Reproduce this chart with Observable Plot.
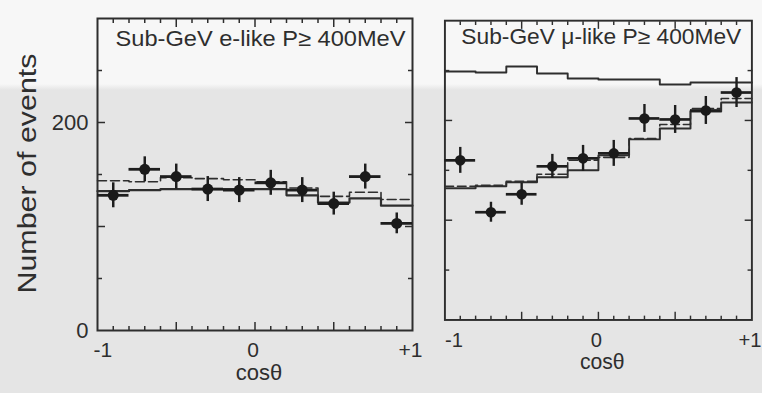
<!DOCTYPE html>
<html><head><meta charset="utf-8">
<script src="https://cdn.jsdelivr.net/npm/d3@7"></script>
<script src="https://cdn.jsdelivr.net/npm/@observablehq/plot@0.6"></script>
<style>
html,body{margin:0;padding:0;width:762px;height:393px;overflow:hidden;}
body{position:relative;background:linear-gradient(#f7f7f7 0px,#f7f7f7 84px,#e5e5e5 90px,#e5e5e5 100%);font-family:"Liberation Sans",Arial,sans-serif;}
#p1,#p2{position:absolute;top:0;}
#p1{left:0px;}
#p2{left:430px;}
</style></head><body>
<div id="p1"></div><div id="p2"></div>
<script>
// cos(theta) bins
const binLeft   = [-1.0,-0.8,-0.6,-0.4,-0.2,0.0,0.2,0.4,0.6,0.8];
const binCenter = [-0.9,-0.7,-0.5,-0.3,-0.1,0.1,0.3,0.5,0.7,0.9];
const binHalf = 0.1;

// Sub-GeV e-like
const eData   = [130,155,148,136,135,142,135,122,148,103];
const eErr    = [12,12,12,12,12,12,12,11,12,10];
const eSolid  = [134,135,136,136,136,136,130,123,127,120];
const eDashed = [144,143,147,146,145,143,137,129,133,126];

// Sub-GeV mu-like
const mData   = [160,108,126,154,162,167,202,201,210,228];
const mErr    = [13,10,11,12,13,13,14,14,14,15];
const mNoOsc  = [249,248,254,247,242,241,241,236,238,238];
const mSolid  = [132,134,138,143,150,165,181,192,209,218];
const mDashed = [134,135,139,146,160,163,182,196,212,222];

// axes
const xMinorTicks = [-0.9,-0.8,-0.7,-0.6,-0.4,-0.3,-0.2,-0.1,0.1,0.2,0.3,0.4,0.6,0.7,0.8,0.9];
const xMajorTicks = [-0.5,0,0.5];
const xLabelTicks = [-1,0,1];
const xLabelText  = ["-1","0","+1"];
const yMinorTicks = [50,150,250];
const yMajorTicks = [100,200];
const yLabelTicks = [0,200];
const yLabel = "Number of events";
const xLabel = "cos\u03b8";
const titles = ["Sub-GeV e-like P\u2265 400MeV","Sub-GeV \u03bc-like P\u2265 400MeV"];

const ink = "#2e2e2e";

function stepPts(vals){
  const pts = binLeft.map((x,i)=>({x, y: vals[i]}));
  pts.push({x: 1, y: vals[vals.length-1]});
  return pts;
}

function panel(o){
  const pts = binCenter.map((c,i)=>({c, v:o.data[i], e:o.err[i]}));
  const lab = xLabelTicks.map((t,i)=>({t, s:xLabelText[i]}));
  const marks = [
    Plot.frame({stroke: ink, strokeWidth: 2}),
    Plot.axisX(xMinorTicks,{anchor:"bottom", tickSize:-4, tickFormat:()=>"", stroke:ink, strokeWidth:1.5, label:null}),
    Plot.axisX(xMajorTicks,{anchor:"bottom", tickSize:-8, tickFormat:()=>"", stroke:ink, strokeWidth:1.5, label:null}),
    Plot.axisX(xMinorTicks,{anchor:"top", tickSize:-4, tickFormat:()=>"", stroke:ink, strokeWidth:1.5, label:null}),
    Plot.axisX(xMajorTicks,{anchor:"top", tickSize:-8, tickFormat:()=>"", stroke:ink, strokeWidth:1.5, label:null}),
    Plot.text(lab.slice(0,1),{x:"t", text:"s", frameAnchor:"bottom", textAnchor:"start", lineAnchor:"top", dx:o.m1dx, dy:o.xPad, fontSize:21, fill:ink}),
    Plot.text(lab.slice(1),{x:"t", text:"s", frameAnchor:"bottom", textAnchor:"middle", lineAnchor:"top", dx:-2, dy:o.xPad, fontSize:21, fill:ink}),
    Plot.axisY(yMinorTicks,{anchor:"left", tickSize:-5, tickFormat:()=>"", stroke:ink, strokeWidth:1.5, label:null}),
    Plot.axisY(yMajorTicks,{anchor:"left", tickSize:-8, tickFormat:()=>"", stroke:ink, strokeWidth:1.5, label:null}),
    Plot.axisY(yMinorTicks,{anchor:"right", tickSize:-5, tickFormat:()=>"", stroke:ink, strokeWidth:1.5, label:null}),
    Plot.axisY(yMajorTicks,{anchor:"right", tickSize:-8, tickFormat:()=>"", stroke:ink, strokeWidth:1.5, label:null}),
    Plot.text([xLabel],{frameAnchor:"bottom", lineAnchor:"top", dx:4, dy:o.xPad+22, fontSize:22, fill:ink}),
    Plot.text([o.title],{frameAnchor:"top-left", textAnchor:"start", lineAnchor:"bottom", dx:o.tdx, dy:o.tdy, fontSize:22, fill:ink, className:"ptitle"})
  ];
  if (o.showY) {
    marks.push(Plot.axisY(yLabelTicks,{anchor:"left", tickSize:0, tickPadding:9, fontSize:22, fill:ink, label:null}));
    marks.push(Plot.text([yLabel],{frameAnchor:"bottom-left", rotate:-90, textAnchor:"start", lineAnchor:"bottom", dx:-62, dy:-37, fontSize:25, fill:ink, className:"ylab"}));
  }
  for (const h of o.hists) {
    marks.push(Plot.line(stepPts(h.vals),{x:"x", y:"y", curve:"step-after", stroke:ink, strokeWidth:h.w, strokeDasharray:h.dash}));
  }
  marks.push(
    Plot.ruleX(pts,{x:"c", y1:d=>d.v-d.e, y2:d=>d.v+d.e, stroke:"#1e1e1e", strokeWidth:2.5}),
    Plot.ruleY(pts,{y:"v", x1:d=>d.c-binHalf, x2:d=>d.c+binHalf, stroke:"#1e1e1e", strokeWidth:2.8}),
    Plot.dot(pts,{x:"c", y:"v", r:5.5, fill:"#1a1a1a", stroke:"none"})
  );
  const svg = Plot.plot({
    width:o.width, height:393,
    marginLeft:o.mL, marginRight:o.mR, marginTop:o.mT, marginBottom:o.mB,
    x:{domain:[-1,1], label:null},
    y:{domain:[0,300], label:null},
    style:{background:"transparent", fontFamily:'"Liberation Sans", Arial, sans-serif', color:ink, overflow:"visible"},
    marks
  });
  d3.select(svg).selectAll(".ptitle text").attr("textLength", o.tlen).attr("lengthAdjust","spacingAndGlyphs");
  d3.select(svg).selectAll(".ylab text").attr("textLength", 240).attr("lengthAdjust","spacingAndGlyphs");
  return svg;
}

document.getElementById("p1").appendChild(panel({
  title:titles[0], data:eData, err:eErr,
  hists:[{vals:eSolid, w:2.2, dash:null},{vals:eDashed, w:1.6, dash:"9,4"}],
  width:430, mL:97, mR:18, mT:18, mB:63, xPad:12, m1dx:-4, tdx:18, tdy:27, tlen:290, showY:true
}));
document.getElementById("p2").appendChild(panel({
  title:titles[1], data:mData, err:mErr,
  hists:[{vals:mNoOsc, w:2, dash:null},{vals:mSolid, w:2, dash:null},{vals:mDashed, w:1.6, dash:"9,4"}],
  width:345, mL:15, mR:11, mT:21, mB:61, xPad:13, m1dx:0, tdx:17, tdy:24, tlen:291, showY:false
}));
</script>
</body></html>
